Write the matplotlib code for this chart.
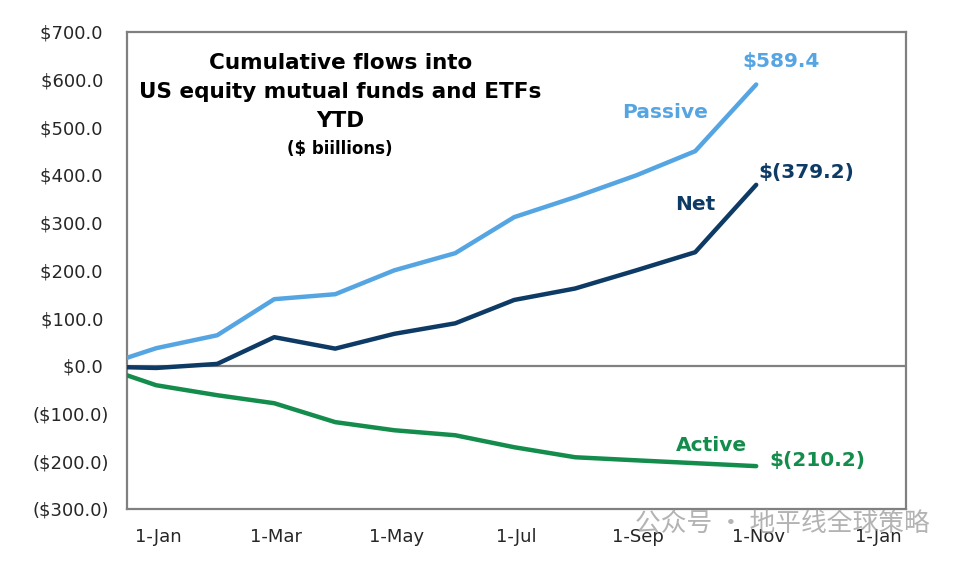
import matplotlib
matplotlib.use("Agg")
import matplotlib.pyplot as plt
import matplotlib.dates as mdates
import numpy as np
import pandas as pd

plt.rcParams['font.family'] = ['DejaVu Sans']

# month-end points ($ billions)
dates = pd.to_datetime(["2023-12-16", "2023-12-31", "2024-01-31", "2024-02-29",
                        "2024-03-31", "2024-04-30", "2024-05-31", "2024-06-30",
                        "2024-07-31", "2024-08-31", "2024-09-30", "2024-10-31"])
passive = [16.6, 36.9, 64.0, 139.6, 150.0, 200.0, 236.0, 311.5, 353.5, 399.0, 449.7, 589.4]
net = [-3.0, -4.5, 4.0, 60.0, 36.0, 67.0, 89.0, 138.0, 162.0, 200.0, 238.0, 379.2]
active = [-19.7, -40.7, -61.6, -78.4, -118.0, -135.0, -145.5, -170.6, -191.6, -198.0, -204.0, -210.2]

tick_dates = pd.to_datetime(["2024-01-01", "2024-03-01", "2024-05-01", "2024-07-01",
                             "2024-09-01", "2024-11-01", "2025-01-01"])
yticks = np.arange(-300, 701, 100)

c_passive = "#56a5e3"
c_net = "#0d3b66"
c_active = "#138c4c"
grey = "#808080"

fig = plt.figure(figsize=(9.6, 5.65), dpi=100)
ax = fig.add_axes([126.7 / 960, 1 - 509 / 565, 779 / 960, 477.3 / 565])

ax.axhline(0, color=grey, lw=1.6, zorder=1)
ax.plot(dates, passive, color=c_passive, lw=3.2, solid_capstyle='round', zorder=3)
ax.plot(dates, net, color=c_net, lw=3.2, solid_capstyle='round', zorder=3)
ax.plot(dates, active, color=c_active, lw=3.2, solid_capstyle='round', zorder=3)

ax.set_xlim(pd.Timestamp("2023-12-16"), pd.Timestamp("2025-01-15"))
ax.set_ylim(-300, 700)
ax.set_xticks(tick_dates)
ax.xaxis.set_major_formatter(mdates.DateFormatter("%-d-%b"))
ax.set_yticks(yticks)
ax.set_yticklabels(["$%.1f " % v if v >= 0 else "($%.1f)" % -v for v in yticks])
ax.tick_params(axis='both', length=0, labelsize=13, colors="#262626")
ax.tick_params(axis='y', pad=13)
ax.tick_params(axis='x', pad=14)
for s in ax.spines.values():
    s.set_color(grey)
    s.set_linewidth(1.6)

# title block inside the plot
ax.text(0.274, 0.935, "Cumulative flows into", transform=ax.transAxes, ha='center',
        va='center', fontsize=15.5, fontweight='bold')
ax.text(0.274, 0.874, "US equity mutual funds and ETFs", transform=ax.transAxes,
        ha='center', va='center', fontsize=15.5, fontweight='bold')
ax.text(0.274, 0.813, "YTD", transform=ax.transAxes, ha='center', va='center',
        fontsize=15.5, fontweight='bold')
ax.text(0.274, 0.754, "($ biillions)", transform=ax.transAxes, ha='center', va='center',
        fontsize=12, fontweight='bold')

# series labels
ax.text(0.840, 0.937, "$%.1f" % passive[-1], transform=ax.transAxes, ha='center',
        va='center', fontsize=14.5, fontweight='bold', color=c_passive)
ax.text(0.691, 0.830, "Passive", transform=ax.transAxes, ha='center', va='center',
        fontsize=14.5, fontweight='bold', color=c_passive)
ax.text(0.872, 0.704, "$(%.1f)" % net[-1], transform=ax.transAxes, ha='center',
        va='center', fontsize=14.5, fontweight='bold', color=c_net)
ax.text(0.730, 0.637, "Net", transform=ax.transAxes, ha='center', va='center',
        fontsize=14.5, fontweight='bold', color=c_net)
ax.text(0.751, 0.134, "Active", transform=ax.transAxes, ha='center', va='center',
        fontsize=14.5, fontweight='bold', color=c_active)
ax.text(0.886, 0.101, "$(%.1f)" % -active[-1], transform=ax.transAxes, ha='center',
        va='center', fontsize=14.5, fontweight='bold', color=c_active)

# watermark
fig.text(782 / 960, 1 - 525 / 565, "公众号 · 地平线全球策略", ha='center', va='center',
         fontsize=18.5, color="#9a9a9a", alpha=0.75,
         family=['Noto Sans CJK SC', 'DejaVu Sans'], zorder=10)

fig.savefig("out.png", dpi=100)
